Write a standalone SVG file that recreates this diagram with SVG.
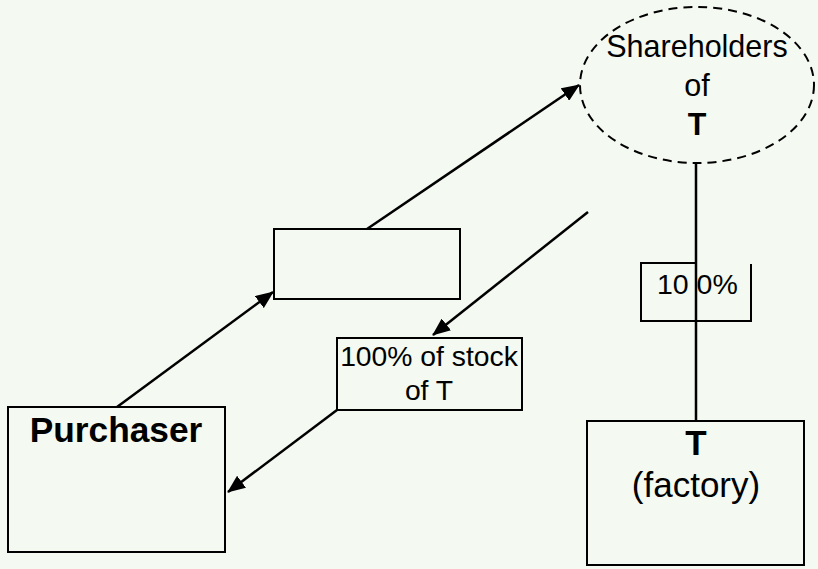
<svg xmlns="http://www.w3.org/2000/svg" width="818" height="569" viewBox="0 0 818 569">
  <defs>
    <marker id="arrow" viewBox="0 0 18 15" refX="17" refY="7.5" markerWidth="18" markerHeight="15" markerUnits="userSpaceOnUse" orient="auto">
      <path d="M0,0 L18,7.5 L0,15 Z" fill="#000"/>
    </marker>
    <style>
      .box { fill: none; stroke: #000; stroke-width: 2; }
      .link { fill: none; stroke: #000; stroke-width: 2.5; }
      .txt { font-family: "Liberation Sans", Arial, sans-serif; fill: #000; text-anchor: middle; }
      .bold { font-weight: bold; }
    </style>
  </defs>

  <rect x="0" y="0" width="818" height="569" fill="#F4F9F1"/>

  <!-- connectors -->
  <g id="connectors">
    <line class="link" x1="117" y1="407" x2="273" y2="292" marker-end="url(#arrow)"/>
    <line class="link" x1="367" y1="229" x2="579" y2="85" marker-end="url(#arrow)"/>
    <line class="link" x1="588" y1="212" x2="433" y2="335" marker-end="url(#arrow)"/>
    <line class="link" x1="337" y1="410" x2="228" y2="492" marker-end="url(#arrow)"/>
    <line class="link" x1="696" y1="163" x2="696" y2="421"/>
  </g>

  <!-- shareholders -->
  <g id="shareholders">
    <ellipse cx="697" cy="85" rx="117" ry="78" fill="none" stroke="#000" stroke-width="2" stroke-dasharray="9 6"/>
    <text class="txt" x="697" y="57" font-size="30.5">Shareholders</text>
    <text class="txt" x="697" y="96" font-size="30.5">of</text>
    <text class="txt bold" x="697" y="135" font-size="30.5">T</text>
  </g>

  <!-- intermediary (empty) -->
  <g id="intermediary">
    <rect class="box" x="274" y="229" width="186" height="70"/>
  </g>

  <!-- stock -->
  <g id="stock">
    <rect class="box" x="337" y="338" width="185" height="72"/>
    <text class="txt" x="429" y="366" font-size="28.3">100% of stock</text>
    <text class="txt" x="429" y="400" font-size="28.3">of T</text>
  </g>

  <!-- ownership share -->
  <g id="share">
    <path class="box" d="M696,263 H641 V321 H751 V264"/>
    <text class="txt" x="657" y="294" font-size="28.5" style="text-anchor:start">10 0%</text>
  </g>

  <!-- purchaser -->
  <g id="purchaser">
    <rect class="box" x="8" y="407" width="217" height="145"/>
    <text class="txt bold" x="116" y="442" font-size="35.3">Purchaser</text>
  </g>

  <!-- target company -->
  <g id="target">
    <rect class="box" x="587" y="421" width="217" height="144"/>
    <text class="txt bold" x="696" y="455" font-size="35">T</text>
    <text class="txt" x="696" y="497" font-size="35">(factory)</text>
  </g>
</svg>
